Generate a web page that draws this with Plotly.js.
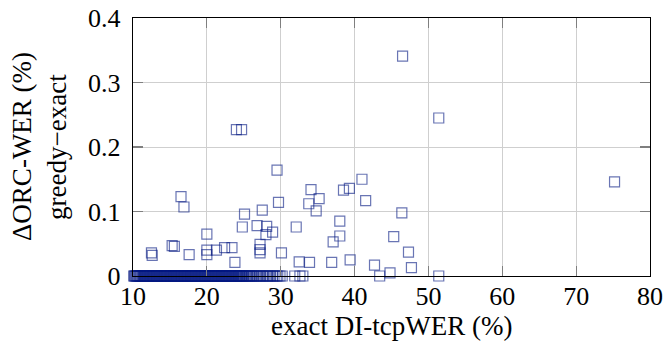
<!DOCTYPE html>
<html>
<head>
<meta charset="utf-8">
<script src="https://cdn.plot.ly/plotly-3.0.1.min.js"></script>
<style>
html,body{margin:0;padding:0;background:#fff;}
#plot{width:665px;height:343px;}
#plot .xtick text, #plot .ytick text { font-family: "Liberation Serif", "Times New Roman", serif !important; }
</style>
</head>
<body>
<div id="plot"></div>
<script>
// Points lying on the zero line (greedy == exact)
var zeroX = [
  10.1, 10.2, 10.3, 10.4, 10.5, 10.6, 10.7, 10.8, 10.9, 11.0, 11.1, 11.2, 11.3, 11.4, 11.5, 11.6, 11.7, 11.8, 11.9,
  12.0, 12.1, 12.2, 12.3, 12.4, 12.5, 12.6, 12.7, 12.8, 12.9, 13.0, 13.1, 13.2, 13.3, 13.4, 13.5, 13.6, 13.7, 13.8, 13.9,
  14.0, 14.1, 14.2, 14.3, 14.4, 14.5, 14.6, 14.7, 14.8, 14.9, 15.0, 15.1, 15.2, 15.3, 15.4, 15.5, 15.6, 15.7, 15.8, 15.9,
  16.0, 16.1, 16.2, 16.3, 16.4, 16.5, 16.6, 16.7, 16.8, 16.9, 17.0, 17.1, 17.2, 17.3, 17.4, 17.5, 17.6, 17.7, 17.8, 17.9,
  18.0, 18.1, 18.2, 18.3, 18.4, 18.5, 18.6, 18.7, 18.8, 18.9, 19.0, 19.1, 19.2, 19.3, 19.4, 19.5, 19.6, 19.7, 19.8, 19.9,
  20.0, 20.1, 20.2, 20.3, 20.4, 20.5, 20.6, 20.7, 20.8, 20.9, 21.0, 21.1, 21.2, 21.3, 21.4, 21.5, 21.6, 21.7, 21.8, 21.9,
  22.0, 22.1, 22.2, 22.3, 22.4, 22.5, 22.6, 22.7, 22.8, 22.9, 23.0, 23.1, 23.2, 23.3, 23.4, 23.5, 23.6, 23.7, 23.8, 23.9,
  24.0, 24.1, 24.2, 24.3, 24.4, 24.5, 24.6, 24.7, 24.8, 24.9, 25.0, 25.2, 25.4, 25.5, 25.7, 25.8, 26.0, 26.1, 26.3,
  26.5, 26.7, 26.9, 27.1, 27.3, 27.5, 27.7, 28.0, 28.2, 28.4, 28.6, 28.9, 29.1, 29.4, 29.6,
  29.9, 30.2, 31.9, 32.6, 33.0, 43.4, 51.4];

// Points with a positive difference
var diffX = [16.5, 16.9, 20.0, 15.3, 15.6, 12.5, 12.6, 17.6, 20.0, 20.0, 21.3, 22.4, 23.4, 23.8,
  24.0, 24.7, 29.5, 34.1, 35.2, 33.8, 34.8, 38.5, 39.3, 41.0, 41.5, 29.7, 27.5, 25.1, 24.8,
  26.8, 28.1, 28.0, 28.9, 32.1, 27.2, 27.2, 27.2, 30.1, 32.5, 33.9, 36.9, 37.1, 38.0, 38.0,
  39.4, 42.7, 44.8, 45.3, 46.4, 47.3, 47.7, 46.5, 51.4, 75.2];
var diffY = [0.123, 0.107, 0.065, 0.047, 0.046, 0.036, 0.032, 0.033, 0.040, 0.033, 0.040, 0.044, 0.044, 0.021,
  0.227, 0.227, 0.164, 0.134, 0.120, 0.112, 0.101, 0.133, 0.136, 0.150, 0.117, 0.114, 0.102, 0.096, 0.076,
  0.078, 0.077, 0.064, 0.068, 0.076, 0.049, 0.041, 0.036, 0.036, 0.022, 0.021, 0.021, 0.053, 0.062, 0.085,
  0.025, 0.017, 0.005, 0.061, 0.098, 0.037, 0.013, 0.341, 0.245, 0.146];

var xTicks = [10, 20, 30, 40, 50, 60, 70, 80];
var yTicks = [0, 0.1, 0.2, 0.3, 0.4];

var xs = zeroX.concat(diffX);
var ys = zeroX.map(function(){ return 0; }).concat(diffY);

var FONT = 'Liberation Serif, Times New Roman, serif';

var trace = {
  x: xs, y: ys, type: 'scatter', mode: 'markers', cliponaxis: false,
  marker: {symbol: 'square-open', size: 10, color: 'rgba(5,25,130,0.6)', line: {width: 1.2}},
  hoverinfo: 'skip'
};

function axis(extra) {
  var a = {
    showgrid: true, gridcolor: '#cfcfcf', gridwidth: 1,
    zeroline: false, showline: true, linecolor: '#000', linewidth: 1.2,
    mirror: 'ticks', ticks: 'inside', ticklen: 10, tickwidth: 1.2, tickcolor: '#7f7f7f',
    tickfont: {family: FONT, size: 26, color: '#000'}
  };
  for (var k in extra) a[k] = extra[k];
  return a;
}

var layout = {
  width: 665, height: 343,
  margin: {l: 133, r: 15, t: 18, b: 67},
  paper_bgcolor: '#fff', plot_bgcolor: '#fff',
  showlegend: false,
  font: {family: FONT, size: 26, color: '#000'},
  xaxis: axis({
    range: [10, 80], tickmode: 'array', tickvals: xTicks, ticktext: xTicks.map(String),
    ticklabelstandoff: -3
  }),
  yaxis: axis({
    range: [0, 0.4], tickmode: 'array', tickvals: yTicks, ticktext: yTicks.map(String),
    ticklabelstandoff: 6
  }),
  annotations: [
    {text: 'exact DI-tcpWER (%)', xref: 'paper', yref: 'paper', x: 0.5, y: (276 - 326) / 258,
     xanchor: 'center', yanchor: 'middle', showarrow: false,
     font: {family: FONT, size: 27, color: '#000'}},
    {text: 'ΔORC-WER (%)', xref: 'paper', yref: 'paper', x: (22 - 133) / 517, y: 0.5,
     xanchor: 'center', yanchor: 'middle', textangle: -90, showarrow: false,
     font: {family: FONT, size: 27, color: '#000'}},
    {text: 'greedy−exact', xref: 'paper', yref: 'paper', x: (57 - 133) / 517, y: 0.5,
     xanchor: 'center', yanchor: 'middle', textangle: -90, showarrow: false,
     font: {family: FONT, size: 27, color: '#000'}}
  ]
};

Plotly.newPlot('plot', [trace], layout, {staticPlot: true, displayModeBar: false});
</script>
</body>
</html>
